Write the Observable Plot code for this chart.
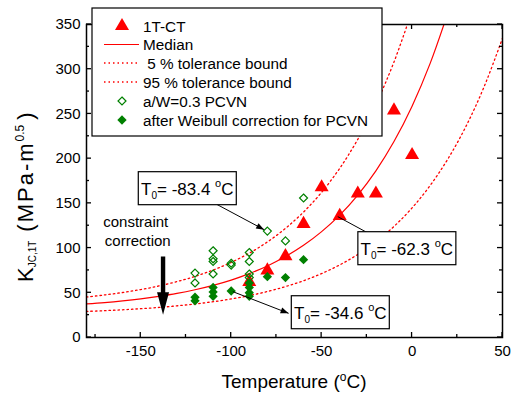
<!DOCTYPE html>
<html><head><meta charset="utf-8">
<script src="https://cdn.jsdelivr.net/npm/d3@7"></script>
<script src="https://cdn.jsdelivr.net/npm/@observablehq/plot@0.6"></script>
<style>
html,body{margin:0;padding:0;background:#fff;}
#chart{position:relative;width:516px;height:398px;}
</style></head><body><div id="chart"></div>
<script>
const FONT = "'Liberation Sans', Arial, Helvetica, sans-serif";
const RED = "#ff0000", GREEN = "#008000";

// 1T-CT specimens
const ctT = [-90, -80, -70, -60, -50, -40, -30, -20, -10, 0];
const ctK = [62, 75, 91, 127, 168, 136, 161, 161, 254, 204];
// a/W=0.3 PCVN
const pcvnT = [-120, -120, -110, -110, -110, -110, -100, -100, -90, -90, -90, -90, -80, -70, -60];
const pcvnK = [72, 61, 97, 88, 85, 71, 83, 81, 95, 85, 71, 67, 119, 108, 156];
// after Weibull correction for PCVN
const wbT = [-120, -120, -110, -110, -110, -100, -90, -90, -90, -90, -80, -70, -60];
const wbK = [45, 41, 56, 51, 46, 52, 61, 56, 50, 46, 68, 67, 87];

// curves
const curveT = [-180, -170, -160, -150, -140, -130, -120, -110, -100, -90, -80, -70, -60, -50, -40, -30, -20, -10, 0, 10, 20, 30, 40, 50];
const medianK = [37.5, 39.0, 40.9, 43.2, 46.0, 49.3, 53.4, 58.3, 64.2, 71.4, 80.0, 90.5, 103.1, 118.4, 136.9, 159.3, 186.4, 219.1, 258.7, 306.5, 364.4];
const lower5K = [29.2, 30.0, 31.0, 32.2, 33.6, 35.4, 37.5, 40.0, 43.1, 46.9, 51.4, 56.9, 63.5, 71.5, 81.2, 92.9, 107.1, 124.2, 144.9, 170.0, 200.3, 236.9, 281.2, 334.7];
const upper95K = [45.3, 47.6, 50.3, 53.6, 57.6, 62.5, 68.3, 75.4, 84.0, 94.3, 106.8, 122.0, 140.3, 162.4, 189.2, 221.6, 260.8, 308.1, 365.4];

const xTicks = [-150, -100, -50, 0, 50];
const xMinor = [-175, -125, -75, -25, 25];
const yTicks = [0, 50, 100, 150, 200, 250, 300, 350];
const yMinor = [25, 75, 125, 175, 225, 275, 325];

const legendLabels = ["1T-CT", "Median", " 5 % tolerance bound", "95 % tolerance bound", "a/W=0.3 PCVN", "after Weibull correction for PCVN"];
const t0Labels = ["-83.4", "-62.3", "-34.6"];
// annotation anchors in data units: box centre, arrow start, arrow end
const annBoxT = [-124, -2.6, -39.4], annBoxK = [166.4, 99.3, 27.7];
const annFromT = [-107.6, -40.8, -98.8], annFromK = [148.2, 134.6, 50.7];
const annToT = [-81.5, -11.5, -68], annToK = [120, 102.5, 26.5];

const zip = (T, K) => K.map((k, i) => ({T: T[i], K: k}));
const ct = zip(ctT, ctK), pcvn = zip(pcvnT, pcvnK), wb = zip(wbT, wbK);
const median = zip(curveT, medianK), lower = zip(curveT, lower5K), upper = zip(curveT, upper95K);

const plot = Plot.plot({
  width: 516, height: 398,
  marginLeft: 86, marginRight: 14, marginTop: 24, marginBottom: 61,
  style: {fontFamily: FONT, fontSize: "15px", color: "#000", background: "#fff", overflow: "visible"},
  x: {domain: [-180, 50], ticks: xTicks, tickSize: 0, tickPadding: 8, label: null, tickFormat: d => String(d)},
  y: {domain: [0, 350], ticks: yTicks, tickSize: 0, tickPadding: 6, label: null, tickFormat: d => String(d)},
  marks: [
    Plot.line(lower, {x: "T", y: "K", stroke: RED, strokeWidth: 1.3, strokeDasharray: "1.5,3", curve: "catmull-rom", clip: true}),
    Plot.line(upper, {x: "T", y: "K", stroke: RED, strokeWidth: 1.3, strokeDasharray: "1.5,3", curve: "catmull-rom", clip: true}),
    Plot.line(median, {x: "T", y: "K", stroke: RED, strokeWidth: 1.2, curve: "catmull-rom", clip: true}),
    Plot.dot(ct, {x: "T", y: "K", symbol: "triangle", r: 5.2, fill: RED, stroke: "none"}),
    Plot.dot(pcvn, {x: "T", y: "K", symbol: "diamond2", r: 3.6, fill: "none", stroke: GREEN, strokeWidth: 1.2}),
    Plot.dot(wb, {x: "T", y: "K", symbol: "diamond2", r: 4.2, fill: GREEN, stroke: "none"}),
    Plot.frame({stroke: "#000", strokeWidth: 1.5})
  ]
});
document.getElementById("chart").appendChild(plot);

const sx = plot.scale("x"), sy = plot.scale("y");
const X = v => sx.apply(v), Y = v => sy.apply(v);
const svg = d3.select(plot);
const xL = X(-180), xR = X(50), yB = Y(0), yT = Y(350);

// inward ticks on all four sides
const tg = svg.append("g").attr("stroke", "#000").attr("stroke-width", 1.3);
function tk(x1, y1, x2, y2) { tg.append("line").attr("x1", x1).attr("y1", y1).attr("x2", x2).attr("y2", y2); }
xTicks.forEach(v => { tk(X(v), yB, X(v), yB - 5); tk(X(v), yT, X(v), yT + 5); });
xMinor.forEach(v => { tk(X(v), yB, X(v), yB - 3); tk(X(v), yT, X(v), yT + 3); });
yTicks.forEach(v => { tk(xL, Y(v), xL + 5, Y(v)); tk(xR, Y(v), xR - 5, Y(v)); });
yMinor.forEach(v => { tk(xL, Y(v), xL + 3, Y(v)); tk(xR, Y(v), xR - 3, Y(v)); });

// axis titles
const xt = svg.append("text").attr("x", (xL + xR) / 2).attr("y", 388).attr("text-anchor", "middle")
  .attr("font-family", FONT).attr("font-size", 19).attr("fill", "#000");
xt.append("tspan").text("Temperature (");
xt.append("tspan").attr("font-size", 12).attr("dy", -7).text("o");
xt.append("tspan").attr("dy", 7).text("C)");

const yt = svg.append("text").attr("transform", "translate(33,282) rotate(-90)").attr("text-anchor", "start")
  .attr("font-family", FONT).attr("font-size", 22).attr("fill", "#000");
yt.append("tspan").text("K");
yt.append("tspan").attr("font-size", 10).attr("dy", 3).text("JC,1T");
yt.append("tspan").attr("dy", -3).attr("dx", 9).attr("letter-spacing", 2).text("(MPa-m");
yt.append("tspan").attr("font-size", 12).attr("dy", -9).text("0.5");
yt.append("tspan").attr("dy", 9).attr("dx", 5).text(")");

// arrows helper
function arrowLine(x1, y1, x2, y2) {
  svg.append("line").attr("x1", x1).attr("y1", y1).attr("x2", x2).attr("y2", y2)
    .attr("stroke", "#000").attr("stroke-width", 1);
  const a = Math.atan2(y2 - y1, x2 - x1), L = 8, W = 3;
  const bx = x2 - L * Math.cos(a), by = y2 - L * Math.sin(a);
  const px = -Math.sin(a) * W, py = Math.cos(a) * W;
  svg.append("path").attr("d", `M${x2},${y2}L${bx + px},${by + py}L${bx - px},${by - py}Z`).attr("fill", "#000");
}

// T0 annotations
t0Labels.forEach((lab, i) => {
  arrowLine(X(annFromT[i]), Y(annFromK[i]), X(annToT[i]), Y(annToK[i]));
  const cx = X(annBoxT[i]), cy = Y(annBoxK[i]);
  svg.append("rect").attr("x", cx - 49).attr("y", cy - 16.5).attr("width", 98).attr("height", 33)
    .attr("fill", "#fff").attr("stroke", "#000").attr("stroke-width", 1.2);
  const t = svg.append("text").attr("x", cx).attr("y", cy + 6.5).attr("text-anchor", "middle")
    .attr("font-family", FONT).attr("font-size", 17).attr("fill", "#000");
  t.append("tspan").text("T");
  t.append("tspan").attr("font-size", 10).attr("dy", 4).text("0");
  t.append("tspan").attr("dy", -4).text("= " + lab + " ");
  t.append("tspan").attr("font-size", 11).attr("dy", -8).text("o");
  t.append("tspan").attr("dy", 8).text("C");
});

// constraint correction
["constraint", "correction"].forEach((w, i) => {
  svg.append("text").attr("x", X(-152.5) + i * 2).attr("y", Y(123 - i * 21.3)).attr("text-anchor", "middle")
    .attr("font-family", FONT).attr("font-size", 15).attr("fill", "#000").text(w);
});
{
  const ax = X(-137.4), yTop = Y(90), yHead = Y(50), yTip = Y(25);
  svg.append("path").attr("d",
    `M${ax - 2.2},${yTop}L${ax + 2.2},${yTop}L${ax + 2.2},${yHead}L${ax + 6},${yHead}L${ax},${yTip}L${ax - 6},${yHead}L${ax - 2.2},${yHead}Z`)
    .attr("fill", "#000");
}

// legend
const lg = svg.append("g");
lg.append("rect").attr("x", 92).attr("y", 8).attr("width", 290).attr("height", 128)
  .attr("fill", "#fff").attr("stroke", "#000").attr("stroke-width", 1.2);
const rows = [26, 44.5, 63, 82, 101, 120];
legendLabels.forEach((lab, i) => {
  const cy = rows[i];
  lg.append("text").attr("x", 143).attr("y", cy + 5.5).attr("text-anchor", "start")
    .attr("font-family", FONT).attr("font-size", 15.3)
    .attr("fill", "#000").attr("xml:space", "preserve").style("white-space", "pre").text(lab);
});
const sym = (type, r) => d3.symbol(type, r * r * Math.PI)();
lg.append("path").attr("transform", `translate(122,${rows[0]})`).attr("d", sym(d3.symbolTriangle, 5.2)).attr("fill", RED);
lg.append("line").attr("x1", 104).attr("x2", 139).attr("y1", rows[1]).attr("y2", rows[1]).attr("stroke", RED).attr("stroke-width", 1.2);
[2, 3].forEach(i => lg.append("line").attr("x1", 104).attr("x2", 139).attr("y1", rows[i]).attr("y2", rows[i])
  .attr("stroke", RED).attr("stroke-width", 1.3).attr("stroke-dasharray", "1.5,3"));
lg.append("path").attr("transform", `translate(122,${rows[4]})`).attr("d", sym(d3.symbolDiamond2, 3.6))
  .attr("fill", "none").attr("stroke", GREEN).attr("stroke-width", 1.2);
lg.append("path").attr("transform", `translate(122,${rows[5]})`).attr("d", sym(d3.symbolDiamond2, 4.2)).attr("fill", GREEN);
</script></body></html>
